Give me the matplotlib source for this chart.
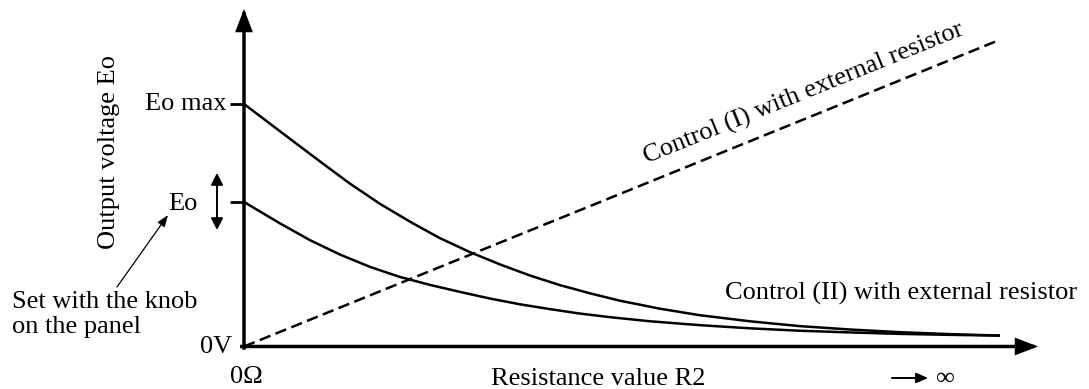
import matplotlib
matplotlib.use("Agg")
import numpy as np
import matplotlib.pyplot as plt
from matplotlib.patches import FancyArrowPatch

plt.rcParams["font.family"] = ["Liberation Serif", "DejaVu Serif"]
FS = 19

# Resistance R2 as a fraction of the drawn range (0 = 0 ohm, 1 = toward infinity)
# Output voltage as a fraction of Eo max
r_upper = [0.000, 0.061, 0.101, 0.140, 0.180, 0.220, 0.259, 0.299, 0.339, 0.378,
           0.418, 0.458, 0.497, 0.550, 0.603, 0.669, 0.735, 0.802, 0.868, 0.934,
           1.000]
eo_upper = [1.000, 0.856, 0.762, 0.672, 0.588, 0.514, 0.447, 0.389, 0.338, 0.293,
            0.253, 0.219, 0.189, 0.156, 0.129, 0.104, 0.084, 0.070, 0.059, 0.051,
            0.045]

r_lower = [0.000, 0.048, 0.087, 0.127, 0.167, 0.206, 0.246, 0.286, 0.325, 0.365,
           0.405, 0.444, 0.484, 0.537, 0.603, 0.669, 0.735, 0.802, 0.868, 0.934,
           1.000]
eo_lower = [0.596, 0.507, 0.439, 0.379, 0.328, 0.287, 0.254, 0.225, 0.198, 0.174,
            0.154, 0.136, 0.121, 0.104, 0.088, 0.075, 0.065, 0.058, 0.052, 0.048,
            0.045]

# Control (I): output rises linearly with R2
r_ctrl1 = [0.0, 1.0]
eo_ctrl1 = [0.0, 1.265]

E_MAX = 1.0
E_SET = 0.596
tick_values = [E_MAX, E_SET]

fig = plt.figure(figsize=(10.89, 3.89), dpi=100)
ax = fig.add_axes([0, 0, 1, 1])
ax.set_xlim(-0.32275, 1.11772)
ax.set_ylim(-0.17526, 1.42887)
ax.axis("off")


def arrow(start, end, lw, hl, hw, **kw):
    style = f"-|>,head_length={hl},head_width={hw}"
    p = FancyArrowPatch(start, end, arrowstyle=style, mutation_scale=1,
                        lw=lw, color="black", shrinkA=0, shrinkB=0, **kw)
    ax.add_patch(p)
    return p


# axes with arrowheads
arrow((0, -0.006), (0, 1.3918), 2.5, 12, 4.6, capstyle="projecting", joinstyle="miter")
arrow((-0.003, 0), (1.0503, 0), 2.5, 12, 4.6, capstyle="projecting", joinstyle="miter")

# tick marks on the voltage axis
ax.hlines(tick_values, -0.0185, 0, colors="black", lw=2.0)

# curves
ax.plot(r_upper, eo_upper, color="black", lw=1.8, solid_capstyle="butt",
        solid_joinstyle="round")
ax.plot(r_lower, eo_lower, color="black", lw=1.8, solid_capstyle="butt",
        solid_joinstyle="round")
ax.plot(r_ctrl1, eo_ctrl1, color="black", lw=1.8, ls=(0, (4.6, 2.2)),
        dash_capstyle="butt")

# label along the dashed line
p0 = ax.transData.transform((r_ctrl1[0], eo_ctrl1[0]))
p1 = ax.transData.transform((r_ctrl1[1], eo_ctrl1[1]))
angle = np.degrees(np.arctan2(p1[1] - p0[1], p1[0] - p0[0]))
ax.text(0.7434, 1.0206, "Control (I) with external resistor", fontsize=FS,
        rotation=angle, rotation_mode="anchor", ha="center", va="baseline")

ax.text(0.636, 0.192, "Control (II) with external resistor", fontsize=FS,
        ha="left", va="baseline")

# voltage axis labels
ax.text(-0.0225, 0.975, "Eo max", fontsize=FS, ha="right", va="baseline")
ax.text(-0.1005, 0.563, "Eo", fontsize=FS, ha="left", va="baseline")
ax.text(-0.0159, -0.0268, "0V", fontsize=FS, ha="right", va="baseline")
ax.text(-0.1785, 0.804, "Output voltage Eo", fontsize=FS, rotation=90,
        ha="center", va="center")

# adjustable set-point arrow
arrow((-0.0357, 0.598), (-0.0357, 0.7155), 1.4, 7, 3.6)
arrow((-0.0357, 0.598), (-0.0357, 0.4804), 1.4, 7, 3.6)

# knob note
ax.text(-0.3069, 0.159, "Set with the knob", fontsize=FS, ha="left", va="baseline")
ax.text(-0.3069, 0.0557, "on the panel", fontsize=FS, ha="left", va="baseline")
arrow((-0.168, 0.2454), (-0.1005, 0.5423), 0.9, 7, 2.6)

# resistance axis labels
ax.text(-0.0185, -0.1505, "0Ω", fontsize=FS, ha="left", va="baseline")
ax.text(0.469, -0.1588, "Resistance value R2", fontsize=FS, ha="center", va="baseline")
arrow((0.857, -0.1299), (0.905, -0.1299), 1.4, 7, 3.0)
ax.text(0.916, -0.1588, "∞", fontsize=FS, ha="left", va="baseline")

fig.savefig("out.png", dpi=100)
